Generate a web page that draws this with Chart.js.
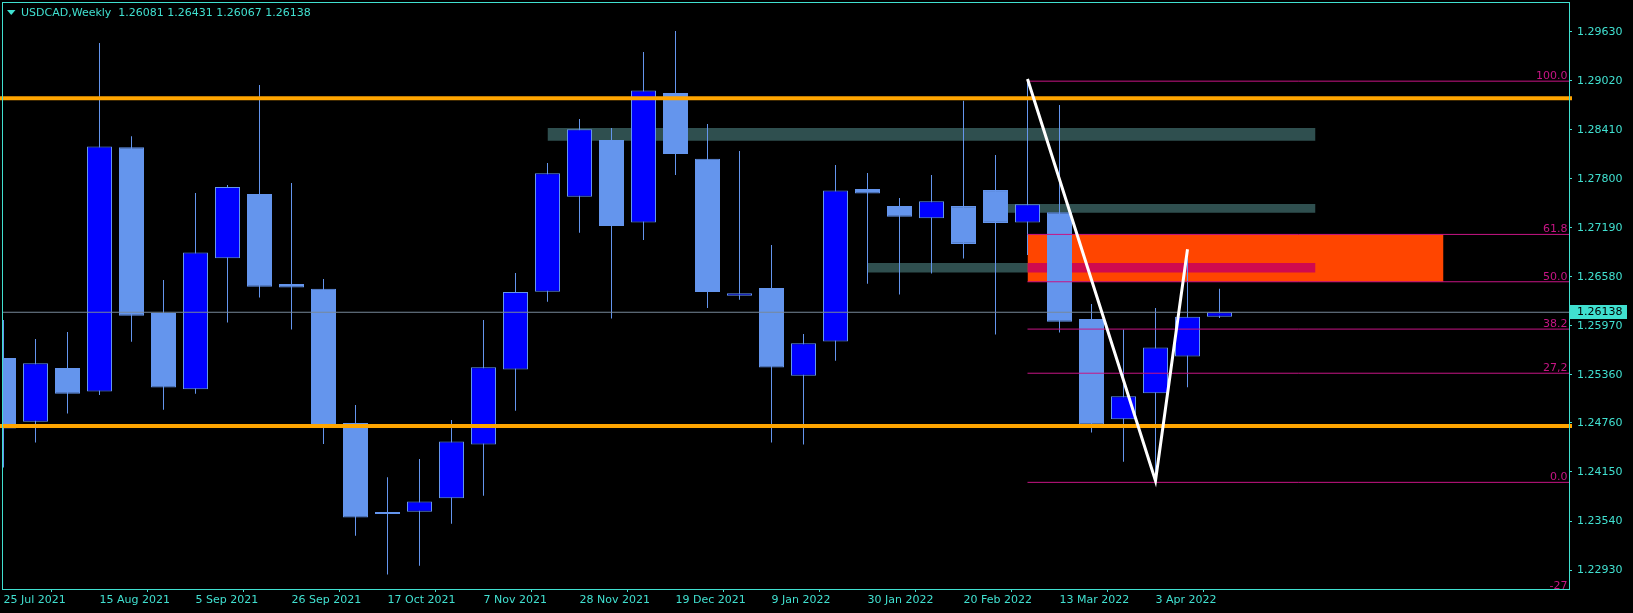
<!DOCTYPE html>
<html><head><meta charset="utf-8">
<script src="https://cdn.jsdelivr.net/npm/chart.js@4.4.1/dist/chart.umd.min.js"></script>
<style>html,body{margin:0;padding:0;background:#000;overflow:hidden}canvas{display:block}</style>
</head><body>
<canvas id="c" width="1633" height="613"></canvas>
<script>
// ---------- DATA ----------
const symbolTitle = 'USDCAD,Weekly';
const weeks = ['25 Jul 2021','1 Aug 2021','8 Aug 2021','15 Aug 2021','22 Aug 2021','29 Aug 2021','5 Sep 2021','12 Sep 2021','19 Sep 2021','26 Sep 2021','3 Oct 2021','10 Oct 2021','17 Oct 2021','24 Oct 2021','31 Oct 2021','7 Nov 2021','14 Nov 2021','21 Nov 2021','28 Nov 2021','5 Dec 2021','12 Dec 2021','19 Dec 2021','26 Dec 2021','2 Jan 2022','9 Jan 2022','16 Jan 2022','23 Jan 2022','30 Jan 2022','6 Feb 2022','13 Feb 2022','20 Feb 2022','27 Feb 2022','6 Mar 2022','13 Mar 2022','20 Mar 2022','27 Mar 2022','3 Apr 2022','10 Apr 2022','17 Apr 2022'];
const tickIndex = [0,3,6,9,12,15,18,21,24,27,30,33,36];
const tickLabels = ['25 Jul 2021','15 Aug 2021','5 Sep 2021','26 Sep 2021','17 Oct 2021','7 Nov 2021','28 Nov 2021','19 Dec 2021','9 Jan 2022','30 Jan 2022','20 Feb 2022','13 Mar 2022','3 Apr 2022'];
const opens  = [1.25570,1.24774,1.25445,1.25153,1.28193,1.26130,1.25179,1.26811,1.27611,1.26491,1.26429,1.24761,1.23651,1.23654,1.23824,1.24491,1.25424,1.26392,1.27575,1.28282,1.27255,1.28868,1.28047,1.26344,1.26441,1.25348,1.25775,1.27673,1.27459,1.27308,1.27459,1.27659,1.27255,1.27384,1.26055,1.24806,1.25130,1.25588,1.26081];
const highs  = [1.26041,1.25806,1.25891,1.29490,1.28330,1.26539,1.27623,1.27722,1.28966,1.27748,1.26553,1.24984,1.24086,1.24313,1.24797,1.26041,1.26628,1.27997,1.28544,1.28432,1.29376,1.29637,1.28482,1.28144,1.26975,1.25868,1.27971,1.27872,1.27561,1.27846,1.28771,1.28095,1.29040,1.28717,1.26242,1.25922,1.26192,1.26810,1.26431];
const lows   = [1.24206,1.24517,1.24877,1.25108,1.25770,1.24926,1.25125,1.26010,1.26322,1.25922,1.24499,1.23357,1.22873,1.22983,1.23507,1.23855,1.24913,1.26268,1.27126,1.26059,1.27037,1.27846,1.26192,1.26295,1.24517,1.24491,1.25535,1.26494,1.26358,1.26619,1.26806,1.25860,1.26850,1.25886,1.24641,1.24277,1.24021,1.25206,1.26067];
const closes = [1.24690,1.25504,1.25125,1.28202,1.26095,1.25201,1.26882,1.27696,1.26455,1.26446,1.24704,1.23583,1.23628,1.23784,1.24530,1.25455,1.26389,1.27869,1.28415,1.27210,1.28899,1.28109,1.26389,1.26375,1.25450,1.25753,1.27654,1.27615,1.27326,1.27518,1.26989,1.27250,1.27481,1.26019,1.24740,1.25094,1.25699,1.26081,1.26138];
const yTickValues = [1.29630,1.29020,1.28410,1.27800,1.27190,1.26580,1.25970,1.25360,1.24760,1.24150,1.23540,1.22930];
const srLevels = [1.28801, 1.24722];
const zoneStart  = [17, 31, 27, 32, 32];
const zoneEnd    = [41, 41, 41, 45, 41];
const zoneTop    = [1.28431, 1.27485, 1.26751, 1.27107, 1.26751];
const zoneBottom = [1.28273, 1.27377, 1.26633, 1.26518, 1.26633];
const fibHigh = 1.29014, fibLow = 1.24021, fibStart = 32;
const fibLevels = [1, 0.618, 0.5, 0.382, 0.272, 0, -0.27];
const fibLabels = ['100.0','61.8','50.0','38.2','27,2','0.0','-27'];
const swingIndex = [32, 36, 37];
const swingPrice = [1.29040, 1.24041, 1.26922];

// ---------- STYLE ----------
const FG = '#40E0D0';
const zoneColors = ['#2F4F4F','#2F4F4F','#2F4F4F','#FF4500','#D00A4F'];
const BULL = '#0000FF', BEAR = '#6495ED', WICK = '#6495ED';
const FIB = '#C71585';
const FONT = 'DejaVu Sans';
Chart.defaults.font.family = FONT;
Chart.defaults.font.size = 11;

const lastClose = closes[closes.length - 1];
const fibPrice = fibLevels.map(l => fibLow + l * (fibHigh - fibLow));
const XMIN = -0.015625, XMAX = 48.921875;

const datasets = [];
zoneTop.forEach((t, i) => datasets.push({
  type: 'line', data: [{x: zoneStart[i], y: t}, {x: zoneEnd[i], y: t}],
  fill: {value: zoneBottom[i]}, backgroundColor: zoneColors[i],
  borderColor: 'rgba(0,0,0,0)', borderWidth: 0, pointRadius: 0, order: 100 - i
}));
datasets.push({
  type: 'bar', data: weeks.map((_, i) => ({x: i, y: [lows[i], highs[i]]})),
  backgroundColor: WICK, borderWidth: 0, barThickness: 1, grouped: false, inflateAmount: 0, order: 50
});
datasets.push({
  type: 'bar', data: weeks.map((_, i) => ({x: i, y: [opens[i], closes[i]]})),
  backgroundColor: weeks.map((_, i) => closes[i] >= opens[i] ? BULL : BEAR),
  borderColor: BEAR, borderWidth: 1, borderSkipped: false,
  barThickness: 25, grouped: false, inflateAmount: 0, order: 40
});
fibPrice.forEach(p => datasets.push({
  type: 'line', data: [{x: fibStart, y: p}, {x: 50, y: p}],
  borderColor: FIB, borderWidth: 1, pointRadius: 0, fill: false, order: 30
}));
srLevels.forEach(p => datasets.push({
  type: 'line', data: [{x: -1, y: p}, {x: 50, y: p}],
  borderColor: '#FFA500', borderWidth: 4, pointRadius: 0, fill: false, order: 20,
  clip: {left: 3, right: 3, top: 0, bottom: 0}
}));
datasets.push({
  type: 'line', data: [{x: -1, y: lastClose}, {x: 50, y: lastClose}],
  borderColor: '#778899', borderWidth: 1, pointRadius: 0, fill: false, order: 15
});
datasets.push({
  type: 'line', data: swingIndex.map((x, i) => ({x, y: swingPrice[i]})),
  borderColor: '#FFFFFF', borderWidth: 3, pointRadius: 0, fill: false, order: 10, tension: 0
});

const overlay = {
  id: 'overlay',
  afterDatasetsDraw(chart) {
    const {ctx, chartArea: a, scales: {y}} = chart;
    ctx.save();
    ctx.font = '11px "' + FONT + '"';
    ctx.fillStyle = FIB; ctx.textAlign = 'right'; ctx.textBaseline = 'alphabetic';
    fibPrice.forEach((p, i) => {
      const py = y.getPixelForValue(p);
      ctx.fillText(fibLabels[i], a.right - 1.5, py - 2);
    });
    ctx.restore();
  },
  afterDraw(chart) {
    const {ctx, chartArea: a, scales: {y}} = chart;
    ctx.save();
    ctx.strokeStyle = FG; ctx.lineWidth = 1;
    ctx.strokeRect(2.5, 2.5, a.right - 2, a.bottom - 2);
    // title
    ctx.fillStyle = FG;
    ctx.beginPath(); ctx.moveTo(7, 10); ctx.lineTo(15.5, 10); ctx.lineTo(11.25, 15); ctx.closePath(); ctx.fill();
    ctx.font = '11px "' + FONT + '"'; ctx.textBaseline = 'middle'; ctx.textAlign = 'left';
    const n = opens.length - 1;
    const txt = symbolTitle + '  ' + [opens[n], highs[n], lows[n], closes[n]].map(v => v.toFixed(5)).join(' ');
    ctx.fillText(txt, 21, 13);
    // price box
    const py = y.getPixelForValue(lastClose);
    ctx.fillStyle = FG;
    ctx.fillRect(a.right + 1, Math.round(py) - 7, 57, 14);
    ctx.fillStyle = '#000';
    ctx.fillText(lastClose.toFixed(5), a.right + 8, Math.round(py));
    ctx.restore();
  }
};

new Chart(document.getElementById('c'), {
  type: 'line',
  data: {datasets},
  plugins: [overlay],
  options: {
    responsive: false, animation: false, events: [],
    layout: {padding: {left: 3, top: 2, right: 0, bottom: 0}},
    plugins: {legend: {display: false}, tooltip: {enabled: false}},
    scales: {
      x: {
        type: 'linear', position: 'bottom', min: XMIN, max: XMAX, offset: false,
        grid: {display: true, drawOnChartArea: false, drawTicks: true, tickLength: 3, color: FG},
        border: {display: false},
        ticks: {color: FG, autoSkip: false, maxRotation: 0, minRotation: 0, align: 'start', padding: 2,
          callback: v => { const k = tickIndex.indexOf(v); return k >= 0 ? tickLabels[k] : ''; }},
        afterBuildTicks: s => { s.ticks = tickIndex.map(v => ({value: v})); },
        afterFit: s => { s.height = 24; s.paddingLeft = 0; s.paddingRight = 0; }
      },
      y: {
        type: 'linear', position: 'right', min: 1.2269376, max: 1.2999926, beginAtZero: false,
        grid: {display: true, drawOnChartArea: false, drawTicks: true, tickLength: 3, color: FG},
        border: {display: false},
        ticks: {color: FG, padding: 5, callback: v => Number(v).toFixed(5)},
        afterBuildTicks: s => { s.ticks = yTickValues.map(v => ({value: v})); },
        afterFit: s => { s.width = 64; s.paddingTop = 0; s.paddingBottom = 0; }
      }
    }
  }
});
</script>
</body></html>
